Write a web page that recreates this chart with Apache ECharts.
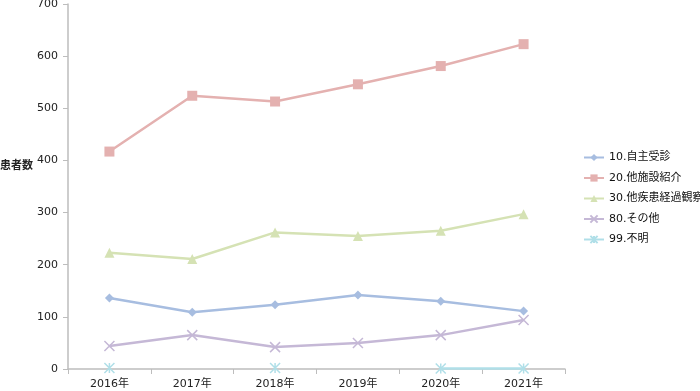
<!DOCTYPE html>
<html><head><meta charset="utf-8">
<script src="https://cdn.jsdelivr.net/npm/echarts@6/dist/echarts.min.js"></script>
<style>html,body{margin:0;padding:0;background:#fff}#c{width:700px;height:391px}</style>
</head><body><div id="c"></div>
<script>
const categories = ['2016年','2017年','2018年','2019年','2020年','2021年'];
const seriesNames = ['10.自主受診','20.他施設紹介','30.他疾患経過観察','80.その他','99.不明'];
const s10 = [136, 109, 123, 142, 130, 111];
const s20 = [417, 524, 513, 546, 581, 623];
const s30 = [223, 211, 262, 255, 265, 297];
const s80 = [44, 65, 42, 50, 65, 94];
const s99 = [2, null, 2, null, 1, 1];
const yTicks = [0, 100, 200, 300, 400, 500, 600, 700];
const yAxisTitle = '患者数';

const FONT = 'DejaVu Sans, Noto Sans CJK JP, sans-serif';
const colors = ['#a7bde0','#e4b1b0','#d5e2b4','#c5b8d6','#b0dfe8'];
const symbols = ['diamond','rect','triangle','path://M0,0L10,10M10,0L0,10','path://M0,0L10,10M10,0L0,10M5,0L5,10'];
const sizes = [9,10,10,10,10];
const data = [s10,s20,s30,s80,s99];

const chart = echarts.init(document.getElementById('c'));
chart.setOption({
  animation:false,
  textStyle:{fontFamily:FONT},
  title:{text:yAxisTitle,left:0,top:161,padding:0,textStyle:{fontWeight:'bold',fontSize:11,color:'#222',fontFamily:FONT}},
  grid:{left:68,right:135,top:4,bottom:22,containLabel:false,outerBoundsMode:'none'},
  legend:{
    orient:'vertical', left:583, top:152, padding:0, itemGap:9.5, itemWidth:20, itemHeight:9,
    textStyle:{fontSize:11,color:'#111',fontFamily:FONT},
    data: seriesNames
  },
  xAxis:{
    type:'category', data:categories, boundaryGap:true,
    axisLine:{lineStyle:{color:'#bdbdbd',width:1.5}},
    axisTick:{show:true,length:5,lineStyle:{color:'#bdbdbd'}},
    axisLabel:{color:'#222',fontSize:11,margin:10,fontFamily:FONT}
  },
  yAxis:{
    type:'value', min:0, max:700, interval:100,
    axisLine:{show:true,lineStyle:{color:'#bdbdbd',width:1.5}},
    axisTick:{show:true,length:5,lineStyle:{color:'#bdbdbd'}},
    splitLine:{show:false},
    axisLabel:{color:'#222',fontSize:11,margin:10,fontFamily:FONT,formatter:v=>yTicks.includes(v)?String(v):''}
  },
  series: data.map((d,i)=>({
    name:seriesNames[i], type:'line', data:d, connectNulls:false,
    symbol:symbols[i], symbolSize:sizes[i], showAllSymbol:true,
    lineStyle:{color:colors[i],width:2.5},
    itemStyle:{color:colors[i],borderColor:colors[i],borderWidth:i>=3?1.5:0},
    emphasis:{disabled:true}
  }))
});
</script></body></html>
